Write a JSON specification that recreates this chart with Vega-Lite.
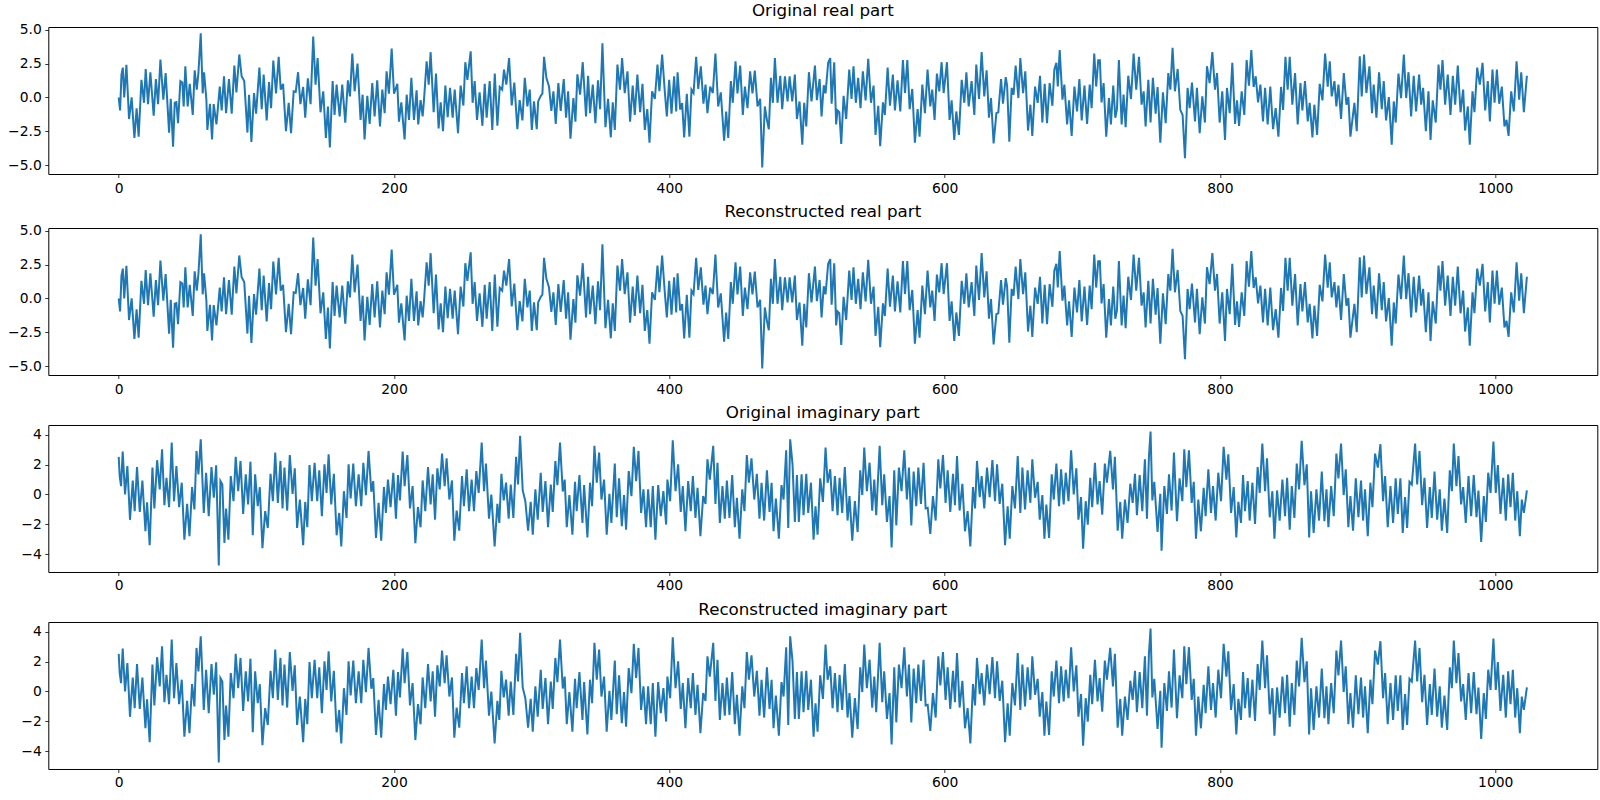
{
"$schema":"https://vega.github.io/schema/vega-lite/v6.json",
"padding":{"left":5.3,"top":2,"right":4,"bottom":0},
"spacing":7,
"background":"white",
"config":{"view":{"stroke":"black","strokeWidth":1},
"axis":{"domain":false,"grid":false,"tickSize":3.5,"tickWidth":0.8,"tickColor":"black","labelColor":"black","labelFontSize":13.9,"labelFont":"DejaVu Sans","labelPadding":3.5,"title":null},
"title":{"font":"DejaVu Sans","fontSize":16.7,"fontWeight":"normal","color":"black","offset":3,"frame":"group","anchor":"middle"}},
"datasets":{
"re":[{"i":0,"v":0},{"i":1,"v":-0.97},{"i":2,"v":1.68},{"i":3,"v":2.2},{"i":4,"v":0},{"i":5.6,"v":2.4},{"i":7.5,"v":-1.6},{"i":9.4,"v":0},{"i":11.4,"v":-3.0},{"i":13,"v":-0.8},{"i":14.5,"v":-2.9},{"i":16.5,"v":1.3},{"i":18.4,"v":-0.4},{"i":19.6,"v":2.1},{"i":21.3,"v":-0.5},{"i":23,"v":1.86},{"i":25.4,"v":-1.36},{"i":27,"v":1.36},{"i":28.6,"v":-0.5},{"i":30.3,"v":2.8},{"i":32.4,"v":-0.17},{"i":34.1,"v":1.8},{"i":36.6,"v":-2.6},{"i":37.8,"v":-0.1},{"i":39.5,"v":-3.64},{"i":40.7,"v":-0.4},{"i":41.9,"v":-0.35},{"i":43.1,"v":-1.9},{"i":44.8,"v":1.2},{"i":46.2,"v":1.1},{"i":47.2,"v":-0.67},{"i":48.4,"v":2.3},{"i":50.1,"v":-0.67},{"i":51.6,"v":1.0},{"i":53.8,"v":-1.3},{"i":55.2,"v":2.0},{"i":56.7,"v":0.57},{"i":57.9,"v":1.8},{"i":59.6,"v":4.73},{"i":61,"v":0.3},{"i":62,"v":1.86},{"i":63.7,"v":-0.17},{"i":64.4,"v":-2.4},{"i":66.3,"v":-0.47},{"i":67.8,"v":-3.1},{"i":69,"v":-0.5},{"i":71,"v":-2.0},{"i":73.4,"v":0.8},{"i":74.8,"v":-0.97},{"i":76.5,"v":1.56},{"i":78,"v":-1.16},{"i":80.1,"v":1.36},{"i":82.1,"v":-1.2},{"i":84,"v":2.35},{"i":85.5,"v":0.37},{"i":87.6,"v":3.17},{"i":89.3,"v":1.56},{"i":91.2,"v":1.2},{"i":93.5,"v":-2.6},{"i":94.7,"v":0.2},{"i":96.4,"v":-3.3},{"i":98.3,"v":0.32},{"i":99.8,"v":-1.2},{"i":102.2,"v":2.2},{"i":103.9,"v":-0.87},{"i":105.3,"v":1.68},{"i":107.5,"v":-1.7},{"i":109.2,"v":1.14},{"i":110.7,"v":-0.8},{"i":112.3,"v":2.72},{"i":114.3,"v":0.3},{"i":116.2,"v":3.0},{"i":117.7,"v":0.57},{"i":119.4,"v":1.0},{"i":121.5,"v":-2.5},{"i":123.5,"v":-0.4},{"i":125.2,"v":-2.65},{"i":127.1,"v":0.45},{"i":128.6,"v":0.4},{"i":130.3,"v":1.86},{"i":132,"v":-0.5},{"i":134,"v":0.77},{"i":135.5,"v":-1.5},{"i":137.4,"v":1.4},{"i":139.4,"v":-0.5},{"i":141.3,"v":4.5},{"i":143,"v":0.94},{"i":144.5,"v":2.9},{"i":146.6,"v":-1.1},{"i":148.6,"v":0.45},{"i":150.5,"v":-3.0},{"i":152,"v":-0.67},{"i":153.4,"v":-3.7},{"i":155.4,"v":1.2},{"i":156.8,"v":-1.3},{"i":158.3,"v":0.94},{"i":160.5,"v":-1.4},{"i":162.4,"v":0.94},{"i":164.6,"v":-1.86},{"i":166.5,"v":1.26},{"i":168,"v":0.07},{"i":169.7,"v":3.24},{"i":171.4,"v":0.45},{"i":173.5,"v":2.5},{"i":175.7,"v":-1.66},{"i":177.2,"v":0.2},{"i":178.6,"v":-3.1},{"i":180.6,"v":0.12},{"i":182.3,"v":-1.96},{"i":184.2,"v":1.06},{"i":185.9,"v":-1.4},{"i":187.8,"v":1.26},{"i":189.8,"v":-2.15},{"i":191.5,"v":0.57},{"i":193.2,"v":-1.16},{"i":194.6,"v":1.93},{"i":196.3,"v":0.27},{"i":198.3,"v":3.6},{"i":200,"v":0.27},{"i":202.4,"v":1.0},{"i":203.6,"v":-1.8},{"i":205.3,"v":-0.37},{"i":207.7,"v":-3.1},{"i":209.2,"v":0.2},{"i":210.9,"v":-1.66},{"i":212.6,"v":1.44},{"i":214.5,"v":-1.66},{"i":216.4,"v":0.52},{"i":217.6,"v":-2.0},{"i":219.3,"v":-0.2},{"i":220.8,"v":-1.4},{"i":221.8,"v":-0.17},{"i":223.7,"v":2.67},{"i":225.2,"v":0.94},{"i":226.6,"v":3.34},{"i":228.8,"v":-1.1},{"i":230.5,"v":1.76},{"i":232.4,"v":-2.3},{"i":233.9,"v":-0.37},{"i":235.6,"v":-2.5},{"i":237.3,"v":0.87},{"i":239,"v":-1.46},{"i":240.7,"v":0.7},{"i":242.6,"v":-1.5},{"i":244.1,"v":0.57},{"i":246.5,"v":-2.65},{"i":248.4,"v":0.87},{"i":250.4,"v":-0.6},{"i":251.8,"v":2.6},{"i":253.3,"v":1.3},{"i":255.7,"v":3.4},{"i":257.1,"v":-0.4},{"i":258.6,"v":1.2},{"i":260.3,"v":-1.66},{"i":262.2,"v":0.37},{"i":264.2,"v":-2.1},{"i":265.9,"v":1.0},{"i":267.3,"v":-1.5},{"i":269.5,"v":1.2},{"i":271.4,"v":-2.4},{"i":273.2,"v":1.76},{"i":275.1,"v":-2.1},{"i":276.8,"v":0.77},{"i":278.6,"v":0.57},{"i":279.9,"v":2.05},{"i":281.6,"v":0.94},{"i":283.6,"v":2.9},{"i":285.5,"v":-0.6},{"i":287.4,"v":1.1},{"i":289.6,"v":-2.35},{"i":291.3,"v":-0.2},{"i":293.3,"v":-1.7},{"i":295,"v":1.44},{"i":296.9,"v":-0.67},{"i":298.6,"v":0.57},{"i":300.1,"v":-2.4},{"i":301.7,"v":-0.3},{"i":303.7,"v":-2.35},{"i":304.7,"v":-0.3},{"i":306.6,"v":0.12},{"i":307.8,"v":0.27},{"i":309,"v":3.0},{"i":310.7,"v":1.44},{"i":312.6,"v":0.8},{"i":314.3,"v":-1.0},{"i":315.8,"v":0.45},{"i":317.5,"v":-1.96},{"i":319.4,"v":1.06},{"i":321.1,"v":-1.0},{"i":323.3,"v":1.36},{"i":325,"v":-1.5},{"i":326.5,"v":0.45},{"i":328.2,"v":-3.05},{"i":330.3,"v":-0.05},{"i":331.8,"v":-1.8},{"i":333.2,"v":1.7},{"i":335.2,"v":0.2},{"i":337.1,"v":2.6},{"i":339.5,"v":-1.4},{"i":341,"v":1.6},{"i":342.4,"v":-1.16},{"i":344.4,"v":0.94},{"i":346.3,"v":-1.9},{"i":348.2,"v":1.26},{"i":349.7,"v":-0.87},{"i":351.4,"v":4.0},{"i":353.6,"v":-2.2},{"i":355.5,"v":-0.1},{"i":357.5,"v":-2.95},{"i":358.9,"v":-0.37},{"i":360.4,"v":-2.4},{"i":362.3,"v":2.43},{"i":364.2,"v":0.57},{"i":365.7,"v":2.9},{"i":367.6,"v":0.32},{"i":369.6,"v":1.93},{"i":371.5,"v":-1.8},{"i":373.4,"v":0.87},{"i":374.9,"v":-1.3},{"i":376.8,"v":1.68},{"i":378.8,"v":-1.1},{"i":380.5,"v":1.0},{"i":382.2,"v":-2.4},{"i":384,"v":-0.87},{"i":385.6,"v":-3.34},{"i":387.5,"v":0.45},{"i":389.5,"v":-0.12},{"i":391.4,"v":2.43},{"i":392.8,"v":0.45},{"i":394.8,"v":3.17},{"i":396.7,"v":0.45},{"i":398.2,"v":-1.4},{"i":399.9,"v":1.3},{"i":401.6,"v":-1.2},{"i":403.5,"v":1.56},{"i":405,"v":-1.04},{"i":406,"v":1.86},{"i":407.9,"v":-0.9},{"i":409.3,"v":-0.42},{"i":410.8,"v":-2.95},{"i":412.7,"v":0.27},{"i":414.6,"v":-2.9},{"i":416.1,"v":0.57},{"i":417.6,"v":0.32},{"i":419.5,"v":3.0},{"i":421,"v":0.62},{"i":422.9,"v":2.3},{"i":424.8,"v":-0.47},{"i":426.3,"v":0.94},{"i":427.7,"v":-1.16},{"i":429.7,"v":0.8},{"i":431.6,"v":0.32},{"i":433.5,"v":3.24},{"i":435.5,"v":-0.67},{"i":437.4,"v":0.37},{"i":439.8,"v":-3.2},{"i":441.3,"v":-1.04},{"i":442.8,"v":-3.0},{"i":444.7,"v":1.2},{"i":446.1,"v":-0.4},{"i":448.1,"v":2.67},{"i":449.5,"v":0.3},{"i":451.5,"v":2.35},{"i":453.4,"v":-1.3},{"i":454.9,"v":0.8},{"i":456.8,"v":-0.8},{"i":458.7,"v":1.93},{"i":460.4,"v":0.3},{"i":462.1,"v":1.98},{"i":464.1,"v":-0.67},{"i":466,"v":-0.1},{"i":467.5,"v":-5.17},{"i":469.4,"v":-0.67},{"i":470.9,"v":-1.66},{"i":472.3,"v":-2.35},{"i":473.8,"v":1.44},{"i":475.2,"v":-0.4},{"i":476.7,"v":2.9},{"i":478.6,"v":-0.4},{"i":480.6,"v":1.6},{"i":482,"v":-0.87},{"i":484,"v":1.56},{"i":485.9,"v":-0.3},{"i":487.4,"v":1.56},{"i":489.3,"v":-0.3},{"i":491.2,"v":1.68},{"i":492.7,"v":-1.6},{"i":494.6,"v":-0.3},{"i":496.6,"v":-3.5},{"i":498,"v":-0.4},{"i":499.5,"v":-2.15},{"i":501.4,"v":1.86},{"i":503.3,"v":-0.3},{"i":505.8,"v":2.35},{"i":507.2,"v":-0.2},{"i":509.2,"v":1.36},{"i":510.6,"v":-1.4},{"i":512.2,"v":0.9},{"i":513.5,"v":0.3},{"i":515.4,"v":2.55},{"i":516.9,"v":2.9},{"i":517.9,"v":-0.47},{"i":519.8,"v":2.6},{"i":521.2,"v":-2.0},{"i":522.2,"v":-0.97},{"i":523.5,"v":-1.1},{"i":524.9,"v":-3.44},{"i":526.6,"v":0.12},{"i":528.5,"v":-1.6},{"i":530.7,"v":2.05},{"i":532.4,"v":-0.12},{"i":533.8,"v":2.3},{"i":535.5,"v":-0.4},{"i":537.2,"v":1.44},{"i":538.9,"v":-0.8},{"i":540.6,"v":1.93},{"i":542.6,"v":-0.22},{"i":544.5,"v":2.85},{"i":546.5,"v":-0.4},{"i":548.4,"v":0.87},{"i":549.8,"v":-2.77},{"i":551.8,"v":-0.62},{"i":553.2,"v":-3.6},{"i":555.2,"v":-0.37},{"i":556.6,"v":-1.3},{"i":558.6,"v":2.2},{"i":560.3,"v":-0.62},{"i":562.4,"v":1.68},{"i":563.9,"v":-0.97},{"i":565.8,"v":1.26},{"i":567.8,"v":-1.04},{"i":569.7,"v":2.75},{"i":571.2,"v":0.32},{"i":572.9,"v":2.75},{"i":574.6,"v":-0.87},{"i":576.5,"v":0.62},{"i":578.4,"v":-3.34},{"i":580.4,"v":-0.87},{"i":581.8,"v":-2.9},{"i":583.8,"v":0.94},{"i":585.7,"v":-1.16},{"i":587.6,"v":2.05},{"i":589.6,"v":-0.67},{"i":591,"v":0.57},{"i":592.7,"v":-1.66},{"i":594.4,"v":1.76},{"i":596.1,"v":0.45},{"i":597.8,"v":2.6},{"i":599.3,"v":0.32},{"i":601.7,"v":2.6},{"i":603.6,"v":-1.66},{"i":605.1,"v":-0.22},{"i":607,"v":-3.14},{"i":608.5,"v":-1.04},{"i":610.4,"v":-2.77},{"i":612.4,"v":1.3},{"i":614.3,"v":-0.4},{"i":615.8,"v":1.86},{"i":617.5,"v":-0.67},{"i":619.6,"v":1.2},{"i":621.6,"v":-1.3},{"i":623,"v":2.43},{"i":625,"v":-0.12},{"i":626.9,"v":3.34},{"i":628.8,"v":0.07},{"i":630.5,"v":2.0},{"i":632.2,"v":-1.5},{"i":633.7,"v":-0.05},{"i":635.6,"v":-3.4},{"i":637.6,"v":-1.16},{"i":639,"v":-1.1},{"i":641,"v":1.36},{"i":642.4,"v":-0.47},{"i":644.4,"v":1.5},{"i":645.4,"v":0.87},{"i":647,"v":-3.27},{"i":648.7,"v":0.7},{"i":650.1,"v":0.2},{"i":651.6,"v":2.35},{"i":653.6,"v":-0.05},{"i":655,"v":2.9},{"i":657,"v":0.32},{"i":658.6,"v":1.93},{"i":660.6,"v":-2.45},{"i":662.3,"v":-0.54},{"i":663.7,"v":-2.85},{"i":665.7,"v":0.8},{"i":667.6,"v":-0.4},{"i":669.3,"v":1.6},{"i":671,"v":-1.86},{"i":672.7,"v":1.0},{"i":674.4,"v":-1.9},{"i":676.3,"v":1.06},{"i":678.3,"v":-0.62},{"i":679.7,"v":2.05},{"i":681.2,"v":2.55},{"i":682.2,"v":0.8},{"i":683.6,"v":3.5},{"i":685.6,"v":-0.17},{"i":687,"v":0.94},{"i":689,"v":-2.0},{"i":690.4,"v":-0.22},{"i":692.3,"v":-2.85},{"i":694.3,"v":0.8},{"i":696.2,"v":-1.04},{"i":697.9,"v":1.36},{"i":699.6,"v":-1.7},{"i":701.6,"v":0.87},{"i":703.5,"v":-1.96},{"i":705.4,"v":0.94},{"i":706.8,"v":-0.8},{"i":708.7,"v":3.24},{"i":710.1,"v":0.8},{"i":711.6,"v":2.75},{"i":712.8,"v":2.75},{"i":714,"v":-0.37},{"i":715.5,"v":1.06},{"i":717.4,"v":-2.9},{"i":719.4,"v":-0.05},{"i":720.8,"v":-2.0},{"i":722.5,"v":0.87},{"i":724,"v":-1.5},{"i":725.2,"v":-0.87},{"i":726.6,"v":2.75},{"i":728.6,"v":-2.0},{"i":730,"v":0.2},{"i":731.5,"v":-2.2},{"i":733.4,"v":1.6},{"i":735.4,"v":-0.12},{"i":737.3,"v":3.24},{"i":739.2,"v":0.57},{"i":741.2,"v":3.0},{"i":743.1,"v":-0.54},{"i":744.6,"v":0.45},{"i":746,"v":-2.15},{"i":748,"v":1.3},{"i":749.6,"v":-1.86},{"i":751.3,"v":1.44},{"i":753.3,"v":-1.2},{"i":754.7,"v":0.77},{"i":756.7,"v":-3.34},{"i":758.6,"v":0.37},{"i":760.6,"v":-1.9},{"i":762.5,"v":1.8},{"i":764,"v":0.57},{"i":765.6,"v":3.66},{"i":767.3,"v":0.45},{"i":769.3,"v":2.1},{"i":771.2,"v":-0.92},{"i":772.9,"v":-1.3},{"i":774.6,"v":-4.5},{"i":776.5,"v":0.7},{"i":778,"v":-0.8},{"i":779.7,"v":1.1},{"i":781.9,"v":-1.78},{"i":783.3,"v":0.7},{"i":785.3,"v":-2.65},{"i":787.2,"v":0.07},{"i":789.1,"v":-1.86},{"i":790.6,"v":2.3},{"i":792.5,"v":1.06},{"i":794.5,"v":3.34},{"i":796.4,"v":0.57},{"i":797.9,"v":1.8},{"i":799.8,"v":-1.86},{"i":801.7,"v":0.45},{"i":803.7,"v":-3.14},{"i":805.1,"v":0.7},{"i":807.1,"v":-1.16},{"i":809,"v":2.55},{"i":811,"v":-1.96},{"i":812.4,"v":-0.22},{"i":813.9,"v":-2.1},{"i":815.8,"v":0.45},{"i":817.7,"v":-1.3},{"i":819.4,"v":2.75},{"i":821.1,"v":0.87},{"i":822.8,"v":3.5},{"i":824.5,"v":0.77},{"i":826,"v":1.56},{"i":827.7,"v":-0.37},{"i":829.4,"v":0.94},{"i":831.3,"v":-1.78},{"i":832.8,"v":0.7},{"i":834.7,"v":-2.0},{"i":836.6,"v":0.8},{"i":838.6,"v":-2.35},{"i":840.5,"v":-0.8},{"i":842.5,"v":-2.9},{"i":844.4,"v":0.77},{"i":845.9,"v":-0.92},{"i":847.6,"v":3.0},{"i":849.2,"v":0.57},{"i":850.7,"v":3.0},{"i":852.6,"v":-0.54},{"i":854.6,"v":1.8},{"i":856.5,"v":-2.0},{"i":858.5,"v":1.06},{"i":859.9,"v":-0.97},{"i":861.8,"v":1.2},{"i":863.8,"v":-1.78},{"i":865.2,"v":-0.4},{"i":867.2,"v":-2.95},{"i":868.6,"v":-0.54},{"i":870.6,"v":-2.77},{"i":872.5,"v":1.0},{"i":874.5,"v":-0.22},{"i":876.4,"v":3.24},{"i":878.3,"v":0.8},{"i":879.8,"v":2.67},{"i":881.2,"v":0.07},{"i":883.2,"v":1.2},{"i":884.6,"v":-0.67},{"i":886.1,"v":0.94},{"i":888,"v":-1.6},{"i":890,"v":1.8},{"i":891.9,"v":-0.54},{"i":893.3,"v":0.02},{"i":894.8,"v":-2.9},{"i":897.7,"v":-0.4},{"i":899.4,"v":-2.5},{"i":901.6,"v":3.04},{"i":903,"v":0.07},{"i":904.7,"v":3.17},{"i":906.4,"v":0.32},{"i":908.6,"v":2.3},{"i":910.5,"v":-1.16},{"i":911.7,"v":0.94},{"i":913.7,"v":-1.5},{"i":915.6,"v":1.86},{"i":917.6,"v":-0.87},{"i":919,"v":1.2},{"i":920.7,"v":-1.7},{"i":922.7,"v":0.02},{"i":924.8,"v":-3.5},{"i":926.3,"v":-0.3},{"i":927.7,"v":-1.86},{"i":929.7,"v":1.76},{"i":931.6,"v":-0.05},{"i":933.6,"v":3.17},{"i":935.3,"v":-0.05},{"i":937,"v":1.86},{"i":938.9,"v":-1.4},{"i":940.8,"v":1.6},{"i":942.5,"v":-1.04},{"i":944.7,"v":1.68},{"i":946.2,"v":-0.54},{"i":947.6,"v":0.7},{"i":949.6,"v":-2.5},{"i":951.5,"v":0.45},{"i":953,"v":-3.14},{"i":954.6,"v":-0.22},{"i":956.8,"v":-1.86},{"i":958.8,"v":2.43},{"i":960.2,"v":0.57},{"i":961.7,"v":2.75},{"i":963.6,"v":-0.54},{"i":965.5,"v":1.68},{"i":967.5,"v":-1.3},{"i":969.2,"v":1.6},{"i":970.9,"v":-0.54},{"i":972.8,"v":2.35},{"i":974.8,"v":-1.1},{"i":976.7,"v":0.57},{"i":978.1,"v":-2.45},{"i":980.1,"v":-0.67},{"i":981.5,"v":-3.5},{"i":983.5,"v":0.45},{"i":984.9,"v":-1.1},{"i":986.9,"v":2.2},{"i":988.8,"v":0.94},{"i":990.8,"v":2.55},{"i":992.7,"v":-0.97},{"i":994.6,"v":1.2},{"i":996.1,"v":-1.78},{"i":998,"v":2.05},{"i":999.5,"v":-0.4},{"i":1001.2,"v":2.05},{"i":1002.9,"v":-0.47},{"i":1004.8,"v":0.8},{"i":1006.7,"v":-2.15},{"i":1008.2,"v":-1.66},{"i":1009.7,"v":-2.85},{"i":1011.6,"v":0.45},{"i":1013.5,"v":-1.04},{"i":1015.5,"v":2.67},{"i":1017.4,"v":-0.17},{"i":1018.9,"v":1.86},{"i":1020.8,"v":-1.1},{"i":1023,"v":1.6}],
"im":[{"i":0,"v":2.52},{"i":0.7,"v":1.24},{"i":1.7,"v":0.56},{"i":2.9,"v":2.88},{"i":4.6,"v":0},{"i":6.3,"v":1.9},{"i":8.2,"v":-1.7},{"i":10.2,"v":0.94},{"i":11.6,"v":-1.12},{"i":13.3,"v":1.84},{"i":15.3,"v":-1.17},{"i":17.2,"v":0.94},{"i":19.4,"v":-2.47},{"i":20.6,"v":-0.52},{"i":22.5,"v":-3.4},{"i":24.5,"v":1.8},{"i":25.9,"v":-0.94},{"i":27.9,"v":2.3},{"i":29.8,"v":0.34},{"i":31.5,"v":3.03},{"i":33.2,"v":-0.72},{"i":34.7,"v":1.12},{"i":36.6,"v":-0.85},{"i":38.5,"v":3.48},{"i":40.2,"v":-0.45},{"i":41.9,"v":1.9},{"i":43.9,"v":-0.85},{"i":45.8,"v":0.79},{"i":47.7,"v":-3.03},{"i":49.7,"v":-0.63},{"i":51.4,"v":-2.8},{"i":53.3,"v":0.49},{"i":55,"v":-1.0},{"i":56.5,"v":2.92},{"i":57.9,"v":1.35},{"i":59.6,"v":3.7},{"i":61.8,"v":-1.24},{"i":63.5,"v":1.46},{"i":65.4,"v":-1.46},{"i":67.4,"v":1.84},{"i":69.1,"v":-0.22},{"i":70.8,"v":1.96},{"i":72.7,"v":-4.76},{"i":73.9,"v":0.9},{"i":75.3,"v":0.67},{"i":76.8,"v":-3.26},{"i":78,"v":-0.94},{"i":79.7,"v":-3.03},{"i":81.4,"v":1.24},{"i":83.4,"v":-0.45},{"i":85,"v":2.52},{"i":86.8,"v":0.22},{"i":88.5,"v":2.25},{"i":90.4,"v":-1.3},{"i":92.3,"v":1.35},{"i":94,"v":-0.67},{"i":95.7,"v":2.2},{"i":97.4,"v":-2.74},{"i":99.1,"v":1.35},{"i":101,"v":-0.79},{"i":102.5,"v":0.49},{"i":104.4,"v":-3.6},{"i":106.4,"v":-1.12},{"i":108.3,"v":-2.25},{"i":110.3,"v":1.39},{"i":112,"v":-0.45},{"i":113.7,"v":2.81},{"i":115.6,"v":-0.56},{"i":117.5,"v":2.25},{"i":119,"v":-0.94},{"i":120.4,"v":1.8},{"i":122.4,"v":-1.08},{"i":124.3,"v":2.65},{"i":126.3,"v":0.04},{"i":127.9,"v":1.75},{"i":129.6,"v":-2.25},{"i":131.6,"v":-0.34},{"i":134,"v":-3.4},{"i":135.5,"v":-0.5},{"i":137,"v":-2.2},{"i":138.6,"v":1.98},{"i":140.3,"v":-0.45},{"i":142.3,"v":2.13},{"i":144.2,"v":-0.45},{"i":145.7,"v":1.62},{"i":147.6,"v":-1.46},{"i":149.5,"v":2.02},{"i":151,"v":0.11},{"i":152.5,"v":2.7},{"i":154.4,"v":-0.67},{"i":156.3,"v":1.39},{"i":158.3,"v":-2.74},{"i":160.2,"v":-1.24},{"i":161.7,"v":-3.48},{"i":163.6,"v":0.22},{"i":165.5,"v":-1.57},{"i":167,"v":2.02},{"i":168.5,"v":-0.27},{"i":170.4,"v":2.07},{"i":172.3,"v":-0.79},{"i":174.3,"v":1.35},{"i":176.2,"v":-0.79},{"i":177.7,"v":2.13},{"i":179.6,"v":-0.04},{"i":181.5,"v":2.92},{"i":183.5,"v":0.18},{"i":184.9,"v":0.9},{"i":186.9,"v":-2.92},{"i":188.8,"v":-0.56},{"i":190.7,"v":-3.1},{"i":192.7,"v":0.49},{"i":194.1,"v":-1.24},{"i":195.6,"v":1.0},{"i":197.5,"v":-0.85},{"i":199.5,"v":1.46},{"i":201.4,"v":-1.62},{"i":202.9,"v":1.3},{"i":204.3,"v":-0.4},{"i":206.3,"v":2.88},{"i":207.7,"v":0.56},{"i":209.7,"v":2.65},{"i":211.6,"v":-0.94},{"i":213.5,"v":0.56},{"i":215.5,"v":-3.26},{"i":217.4,"v":-0.85},{"i":219.3,"v":-2.2},{"i":220.8,"v":0.94},{"i":222.7,"v":-1.12},{"i":224.7,"v":1.84},{"i":226.6,"v":-0.67},{"i":228.1,"v":1.35},{"i":229.8,"v":-1.69},{"i":231.5,"v":1.75},{"i":233.2,"v":0.34},{"i":234.9,"v":2.74},{"i":236.8,"v":0.56},{"i":238.2,"v":2.43},{"i":240.2,"v":-0.34},{"i":242.1,"v":0.94},{"i":243.8,"v":-3.1},{"i":245.5,"v":-1.08},{"i":247.4,"v":-2.43},{"i":249.4,"v":1.24},{"i":250.8,"v":-0.79},{"i":252.8,"v":1.69},{"i":254.5,"v":-1.12},{"i":256.4,"v":1.0},{"i":258.1,"v":-1.12},{"i":259.8,"v":1.57},{"i":261.5,"v":0.11},{"i":263.7,"v":3.48},{"i":265.4,"v":0.22},{"i":266.8,"v":2.07},{"i":269,"v":-1.62},{"i":270.7,"v":0},{"i":273.1,"v":-3.48},{"i":275.1,"v":-0.63},{"i":276.5,"v":-1.91},{"i":278,"v":1.39},{"i":279.7,"v":-0.4},{"i":281.4,"v":0.79},{"i":283.3,"v":-1.62},{"i":284.8,"v":0.67},{"i":286.7,"v":-1.57},{"i":288.7,"v":2.52},{"i":290.1,"v":0.67},{"i":291.6,"v":3.93},{"i":293.5,"v":0.27},{"i":295.4,"v":-0.45},{"i":297.4,"v":-2.43},{"i":299.3,"v":-0.5},{"i":300.8,"v":-2.7},{"i":302.7,"v":0.34},{"i":304.4,"v":-1.69},{"i":306.6,"v":1.46},{"i":308,"v":-1.17},{"i":310,"v":0.9},{"i":311.9,"v":-2.2},{"i":313.9,"v":0.67},{"i":315.3,"v":-1.17},{"i":317.2,"v":2.25},{"i":318.7,"v":0.63},{"i":320.6,"v":3.48},{"i":322.6,"v":0.2},{"i":324,"v":1.0},{"i":325.5,"v":-2.2},{"i":327.4,"v":-0.04},{"i":329.6,"v":-2.7},{"i":331.5,"v":0.85},{"i":332.7,"v":-1.12},{"i":334.7,"v":1.3},{"i":336.9,"v":-1.91},{"i":338.1,"v":0.63},{"i":340.5,"v":-2.88},{"i":342.4,"v":0.79},{"i":343.9,"v":-0.79},{"i":345.6,"v":3.26},{"i":347.3,"v":0.79},{"i":349,"v":2.81},{"i":350.7,"v":-0.34},{"i":352.6,"v":1.0},{"i":354.5,"v":-2.7},{"i":356.5,"v":0.04},{"i":357.9,"v":-1.91},{"i":360.4,"v":2.07},{"i":361.8,"v":-1.53},{"i":363.5,"v":1.08},{"i":365.5,"v":-2.13},{"i":367.1,"v":-0.04},{"i":368.6,"v":-2.36},{"i":370.5,"v":1.57},{"i":372.5,"v":-0.11},{"i":374.2,"v":3.19},{"i":375.9,"v":0.9},{"i":377.6,"v":2.92},{"i":379.5,"v":-1.24},{"i":381.2,"v":0.34},{"i":383.1,"v":-2.2},{"i":384.6,"v":0.34},{"i":386.5,"v":-2.2},{"i":388,"v":0.56},{"i":389.9,"v":-3.03},{"i":391.9,"v":0.63},{"i":393.8,"v":-1.46},{"i":395.7,"v":0.22},{"i":397.7,"v":-2.02},{"i":398.6,"v":1.0},{"i":400.6,"v":-0.45},{"i":402.5,"v":3.64},{"i":404.5,"v":0.22},{"i":406.4,"v":2.02},{"i":408.3,"v":-1.17},{"i":409.8,"v":0.56},{"i":411.7,"v":-2.47},{"i":413.7,"v":0.9},{"i":415.6,"v":-1.12},{"i":417.1,"v":1.24},{"i":419,"v":-1.57},{"i":420.5,"v":0.45},{"i":422.6,"v":-2.8},{"i":424.6,"v":-0.11},{"i":426.3,"v":-0.63},{"i":427.7,"v":2.36},{"i":429.4,"v":1.0},{"i":431.9,"v":3.26},{"i":433.5,"v":-0.63},{"i":435,"v":2.13},{"i":436.7,"v":-1.91},{"i":438.6,"v":0.56},{"i":440.3,"v":-1.62},{"i":441.8,"v":0.94},{"i":443.7,"v":-1.57},{"i":445.7,"v":1.3},{"i":447.6,"v":-2.2},{"i":449.1,"v":-0.22},{"i":451,"v":-2.97},{"i":453,"v":0.34},{"i":454.6,"v":-1.12},{"i":456.3,"v":2.65},{"i":457.8,"v":0.79},{"i":459.7,"v":2.43},{"i":461.7,"v":-0.34},{"i":463.6,"v":1.39},{"i":465.5,"v":-1.62},{"i":467,"v":0.79},{"i":468.9,"v":-1.75},{"i":470.9,"v":1.62},{"i":472.8,"v":-1.17},{"i":474.3,"v":0.79},{"i":475.7,"v":-2.47},{"i":477.4,"v":-0.27},{"i":479.6,"v":-2.97},{"i":481.5,"v":0.63},{"i":483,"v":-0.34},{"i":484.9,"v":2.97},{"i":486.4,"v":-2.25},{"i":487.8,"v":3.7},{"i":489.5,"v":2.02},{"i":491.2,"v":-1.84},{"i":492.7,"v":1.3},{"i":494.1,"v":-1.84},{"i":496.1,"v":1.35},{"i":497.5,"v":-1.39},{"i":499.5,"v":1.39},{"i":500.9,"v":-1.24},{"i":502.9,"v":0.79},{"i":504.8,"v":-3.03},{"i":506.2,"v":-0.79},{"i":507.7,"v":-2.7},{"i":509.6,"v":1.08},{"i":511.6,"v":-0.5},{"i":513.5,"v":3.15},{"i":515,"v":0.79},{"i":516.9,"v":1.69},{"i":518.6,"v":-1.12},{"i":520.3,"v":1.24},{"i":522.2,"v":-1.39},{"i":523.7,"v":1.12},{"i":525.6,"v":-1.24},{"i":527.5,"v":1.84},{"i":529.5,"v":-1.75},{"i":530.9,"v":-0.11},{"i":532.9,"v":-3.1},{"i":534.8,"v":-0.45},{"i":536.8,"v":-2.52},{"i":538.7,"v":1.62},{"i":540.2,"v":-0.04},{"i":541.6,"v":3.15},{"i":543.5,"v":0.22},{"i":545.5,"v":2.13},{"i":547.4,"v":-1.08},{"i":548.9,"v":1.0},{"i":550.3,"v":-1.39},{"i":552.8,"v":3.26},{"i":554.7,"v":-0.72},{"i":556.1,"v":1.35},{"i":558.1,"v":-1.84},{"i":560,"v":-0.11},{"i":561.5,"v":-3.55},{"i":563.4,"v":1.62},{"i":564.9,"v":-2.07},{"i":566.8,"v":1.8},{"i":568.7,"v":0.22},{"i":570.7,"v":2.97},{"i":572.6,"v":-0.34},{"i":574.1,"v":1.8},{"i":575.8,"v":-2.07},{"i":577.5,"v":1.53},{"i":579.4,"v":-0.79},{"i":580.9,"v":1.8},{"i":582.8,"v":-0.63},{"i":584.7,"v":2.13},{"i":586.2,"v":-0.94},{"i":587.7,"v":-0.9},{"i":589.6,"v":-2.65},{"i":591.5,"v":-0.11},{"i":593.5,"v":-1.75},{"i":595.4,"v":2.36},{"i":596.9,"v":0.4},{"i":598.8,"v":2.65},{"i":600.7,"v":-0.56},{"i":602.2,"v":1.62},{"i":604.1,"v":-1.17},{"i":606.1,"v":1.39},{"i":607.5,"v":-0.72},{"i":609,"v":2.58},{"i":610.9,"v":-1.08},{"i":612.9,"v":0.72},{"i":614.8,"v":-2.47},{"i":616.7,"v":-1.12},{"i":618.7,"v":-3.48},{"i":620.6,"v":0.49},{"i":622.1,"v":-0.94},{"i":623.5,"v":2.25},{"i":625.5,"v":-0.18},{"i":626.9,"v":1.24},{"i":628.8,"v":-0.94},{"i":630.8,"v":1.8},{"i":632.7,"v":-0.18},{"i":634.7,"v":2.3},{"i":636.6,"v":-0.45},{"i":638.1,"v":2.02},{"i":640,"v":-0.63},{"i":641.9,"v":0.72},{"i":643.9,"v":-3.4},{"i":645.8,"v":-0.79},{"i":647.3,"v":-2.97},{"i":649.2,"v":0.56},{"i":651.1,"v":-0.94},{"i":653.1,"v":2.58},{"i":655,"v":-1.24},{"i":656.5,"v":1.8},{"i":658.4,"v":-1.01},{"i":660.3,"v":1.62},{"i":662.3,"v":-0.56},{"i":663.7,"v":2.36},{"i":665.7,"v":-0.22},{"i":667.6,"v":0.85},{"i":669.1,"v":-1.69},{"i":671,"v":-0.04},{"i":672.5,"v":-2.97},{"i":673.9,"v":-0.67},{"i":675.9,"v":-2.92},{"i":677.8,"v":1.35},{"i":679.3,"v":-0.34},{"i":681.2,"v":2.07},{"i":683.1,"v":-0.79},{"i":684.6,"v":1.69},{"i":686.5,"v":-0.67},{"i":688,"v":1.46},{"i":690,"v":-0.45},{"i":691.9,"v":2.97},{"i":693.8,"v":0},{"i":695.7,"v":1.75},{"i":697.2,"v":-1.69},{"i":699.1,"v":-0.18},{"i":700.6,"v":-3.64},{"i":702.5,"v":-0.45},{"i":704,"v":-2.02},{"i":705.8,"v":1.12},{"i":707.2,"v":-0.85},{"i":709.2,"v":2.13},{"i":711.1,"v":-0.67},{"i":712.6,"v":0.9},{"i":714.5,"v":-1.35},{"i":716.4,"v":2.07},{"i":717.9,"v":0.79},{"i":720.3,"v":2.92},{"i":722.3,"v":0.34},{"i":723.7,"v":2.52},{"i":725.7,"v":-2.43},{"i":727.6,"v":-0.5},{"i":729,"v":-2.97},{"i":731,"v":-0.34},{"i":732.9,"v":-1.91},{"i":734.9,"v":0.72},{"i":736.6,"v":-0.56},{"i":738.3,"v":1.39},{"i":739.7,"v":-1.39},{"i":741.7,"v":1.3},{"i":743.6,"v":-1.12},{"i":745.5,"v":2.36},{"i":747,"v":-1.62},{"i":748.4,"v":2.47},{"i":749.6,"v":4.22},{"i":750.9,"v":-0.4},{"i":752.3,"v":0.85},{"i":754.7,"v":-2.52},{"i":756.7,"v":0.04},{"i":757.6,"v":-3.78},{"i":759.6,"v":0.56},{"i":761.5,"v":-1.3},{"i":763,"v":1.35},{"i":764.9,"v":-1.08},{"i":766.6,"v":2.81},{"i":768.8,"v":-1.8},{"i":770.7,"v":1.08},{"i":772.7,"v":-0.45},{"i":774.1,"v":3.03},{"i":775.6,"v":0.49},{"i":777.5,"v":2.97},{"i":779.5,"v":-0.56},{"i":781,"v":0.85},{"i":782.6,"v":-2.97},{"i":784.3,"v":-0.34},{"i":786.2,"v":-2.47},{"i":788.2,"v":0.45},{"i":789.6,"v":-1.46},{"i":791.6,"v":1.69},{"i":793.5,"v":-1.24},{"i":795,"v":0.56},{"i":796.9,"v":-1.75},{"i":798.8,"v":1.46},{"i":800.8,"v":-0.45},{"i":802.7,"v":3.19},{"i":804.7,"v":1.0},{"i":806.1,"v":2.7},{"i":808.1,"v":-1.24},{"i":810,"v":0.49},{"i":811.9,"v":-2.88},{"i":813.4,"v":-0.5},{"i":815.3,"v":-1.91},{"i":816.8,"v":1.3},{"i":818.2,"v":-1.12},{"i":820.2,"v":0.9},{"i":821.6,"v":-1.75},{"i":823.6,"v":0.79},{"i":825.5,"v":-1.98},{"i":827.4,"v":1.84},{"i":828.9,"v":0.11},{"i":830.8,"v":3.42},{"i":832.8,"v":0.22},{"i":834.2,"v":2.43},{"i":836.2,"v":-1.53},{"i":838.1,"v":0.22},{"i":839.6,"v":-2.97},{"i":841.5,"v":0.27},{"i":843.4,"v":-1.75},{"i":845.4,"v":1.0},{"i":847.3,"v":-1.46},{"i":848.8,"v":1.12},{"i":850.7,"v":-2.36},{"i":852.2,"v":0.56},{"i":854.1,"v":-1.57},{"i":855.8,"v":2.07},{"i":857.5,"v":0.34},{"i":859.4,"v":3.6},{"i":861.4,"v":0.63},{"i":863.1,"v":2.02},{"i":864.8,"v":-2.88},{"i":866.2,"v":0.22},{"i":868.1,"v":-2.58},{"i":870.1,"v":0.34},{"i":872,"v":-1.75},{"i":874,"v":1.53},{"i":875.9,"v":-1.8},{"i":877.4,"v":0.34},{"i":878.8,"v":-2.2},{"i":880.8,"v":0.56},{"i":882.7,"v":-1.46},{"i":884.6,"v":2.74},{"i":886.1,"v":1.08},{"i":888,"v":3.42},{"i":889.9,"v":-0.04},{"i":891.4,"v":1.69},{"i":893.3,"v":-2.2},{"i":894.8,"v":-0.11},{"i":896.7,"v":-2.43},{"i":898.7,"v":1.08},{"i":900.6,"v":-1.53},{"i":902.5,"v":0.94},{"i":904,"v":-1.75},{"i":905.4,"v":0.34},{"i":907.4,"v":-2.8},{"i":909.3,"v":0.79},{"i":910.8,"v":-0.85},{"i":912.7,"v":2.74},{"i":914.7,"v":1.8},{"i":916.6,"v":3.37},{"i":918.5,"v":-0.45},{"i":920,"v":1.24},{"i":921.9,"v":-2.2},{"i":923.9,"v":0.56},{"i":925.8,"v":-1.91},{"i":927.7,"v":1.08},{"i":929.2,"v":-1.3},{"i":931.1,"v":1.08},{"i":932.8,"v":-2.58},{"i":934.5,"v":-0.18},{"i":936,"v":-2.25},{"i":937.7,"v":0.85},{"i":939.4,"v":0.67},{"i":941.8,"v":3.42},{"i":943.3,"v":0.67},{"i":945,"v":2.92},{"i":946.9,"v":-0.72},{"i":948.6,"v":1.12},{"i":950.5,"v":-2.25},{"i":952.5,"v":0.49},{"i":953.9,"v":-1.57},{"i":955.9,"v":1.53},{"i":957.8,"v":-1.69},{"i":959.7,"v":0.34},{"i":961.2,"v":-2.43},{"i":963.1,"v":-0.27},{"i":965.1,"v":-2.58},{"i":967,"v":1.62},{"i":968.5,"v":0.22},{"i":969.9,"v":3.42},{"i":971.8,"v":0.56},{"i":973.3,"v":2.58},{"i":975.2,"v":-0.67},{"i":976.7,"v":0.49},{"i":978.6,"v":-1.91},{"i":980.6,"v":1.24},{"i":982.5,"v":-1.46},{"i":984.4,"v":1.3},{"i":986.4,"v":-1.53},{"i":987.8,"v":0.27},{"i":989.8,"v":-3.19},{"i":991.7,"v":-0.11},{"i":993.2,"v":-1.84},{"i":994.9,"v":1.46},{"i":996.6,"v":0.11},{"i":998.7,"v":3.55},{"i":1000.4,"v":0.11},{"i":1001.9,"v":1.98},{"i":1003.8,"v":-1.3},{"i":1005.8,"v":1.12},{"i":1007.7,"v":-1.75},{"i":1009.4,"v":1.35},{"i":1011.1,"v":-0.85},{"i":1012.8,"v":1.46},{"i":1014.5,"v":-1.75},{"i":1016,"v":0.22},{"i":1017.9,"v":-2.8},{"i":1019.3,"v":-0.34},{"i":1020.8,"v":-1.24},{"i":1023,"v":0.27}]
},
"vconcat":[
{"title":{"text":"Original real part"},"data":{"name":"re"},"width":1549,"height":147,
"mark":{"type":"line","color":"#1f77b4","strokeWidth":2},
"encoding":{"x":{"field":"i","type":"quantitative","scale":{"domain":[-51.15,1074.15],"nice":false,"zero":false},"axis":{"values":[0,200,400,600,800,1000],"format":"d","minExtent":21,"maxExtent":21}},
"y":{"field":"v","type":"quantitative","scale":{"domain":[-5.66,5.2],"nice":false,"zero":false},"axis":{"values":[-5,-2.5,0,2.5,5],"format":".1f","minExtent":42,"maxExtent":42}}}},
{"title":{"text":"Reconstructed real part"},"data":{"name":"re"},"width":1549,"height":147,
"mark":{"type":"line","color":"#1f77b4","strokeWidth":2},
"encoding":{"x":{"field":"i","type":"quantitative","scale":{"domain":[-51.15,1074.15],"nice":false,"zero":false},"axis":{"values":[0,200,400,600,800,1000],"format":"d","minExtent":21,"maxExtent":21}},
"y":{"field":"v","type":"quantitative","scale":{"domain":[-5.66,5.2],"nice":false,"zero":false},"axis":{"values":[-5,-2.5,0,2.5,5],"format":".1f","minExtent":42,"maxExtent":42}}}},
{"title":{"text":"Original imaginary part"},"data":{"name":"im"},"width":1549,"height":147,
"mark":{"type":"line","color":"#1f77b4","strokeWidth":2},
"encoding":{"x":{"field":"i","type":"quantitative","scale":{"domain":[-51.15,1074.15],"nice":false,"zero":false},"axis":{"values":[0,200,400,600,800,1000],"format":"d","minExtent":21,"maxExtent":21}},
"y":{"field":"v","type":"quantitative","scale":{"domain":[-5.2,4.66],"nice":false,"zero":false},"axis":{"values":[-4,-2,0,2,4],"format":"d","minExtent":42,"maxExtent":42}}}},
{"title":{"text":"Reconstructed imaginary part"},"data":{"name":"im"},"width":1549,"height":147,
"mark":{"type":"line","color":"#1f77b4","strokeWidth":2},
"encoding":{"x":{"field":"i","type":"quantitative","scale":{"domain":[-51.15,1074.15],"nice":false,"zero":false},"axis":{"values":[0,200,400,600,800,1000],"format":"d","minExtent":21,"maxExtent":21}},
"y":{"field":"v","type":"quantitative","scale":{"domain":[-5.2,4.66],"nice":false,"zero":false},"axis":{"values":[-4,-2,0,2,4],"format":"d","minExtent":42,"maxExtent":42}}}}
]
}
